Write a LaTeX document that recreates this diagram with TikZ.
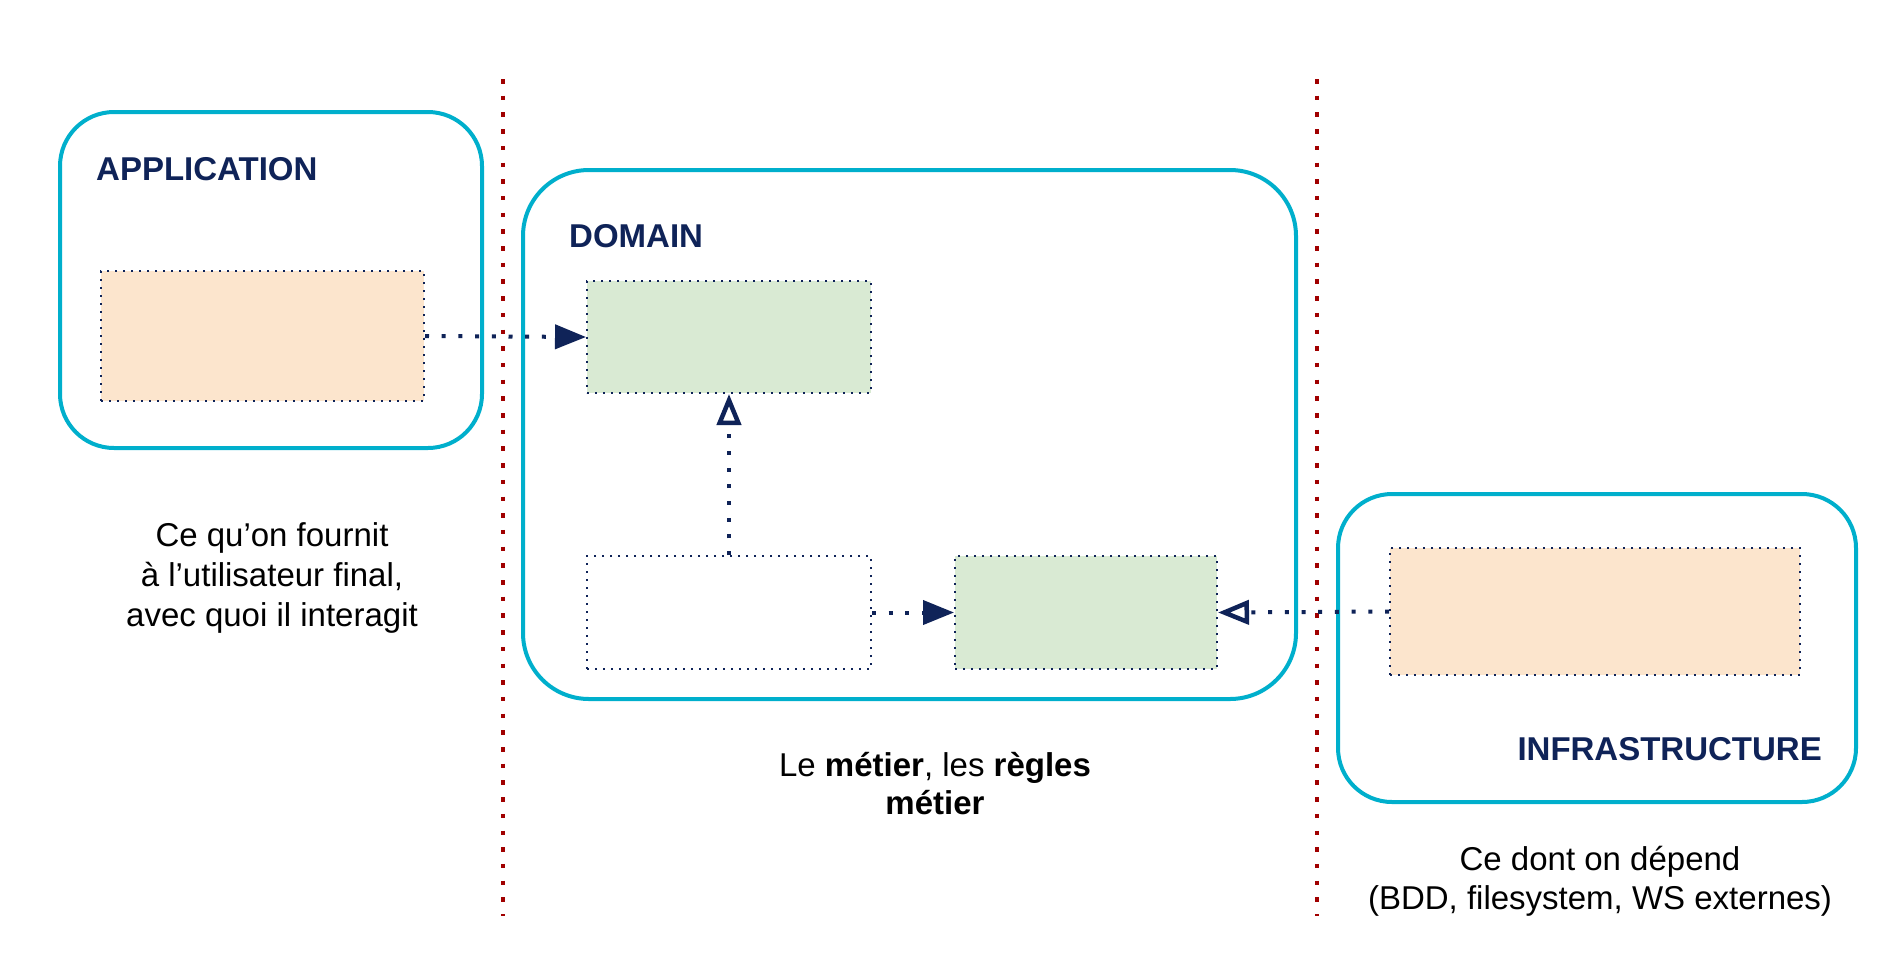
\documentclass[tikz,border=0pt]{standalone}
\usepackage{fontspec}
\setmainfont{Liberation Sans}
\usetikzlibrary{arrows.meta}
\definecolor{cyanb}{RGB}{0,175,204}
\definecolor{navy}{RGB}{15,35,88}
\definecolor{dred}{RGB}{160,0,0}
\definecolor{peach}{RGB}{252,229,205}
\definecolor{lgreen}{RGB}{217,234,211}
\begin{document}
\begin{tikzpicture}[x=1pt,y=-1pt,
 container/.style={draw=cyanb, line width=4pt, fill=white, inner sep=0pt},
 inbox/.style={draw=navy, line width=2pt, dash pattern=on 2pt off 6pt, inner sep=0pt},
 conn/.style={navy, line width=4pt, dash pattern=on 4pt off 12.7pt},
 sepline/.style={dred, line width=4.5pt, dash pattern=on 4.5pt off 12.2pt},
 titletext/.style={text=navy, font=\fontsize{33}{40}\selectfont\bfseries, inner sep=0pt},
 captext/.style={text=black, align=center, inner sep=0pt},
 fillhead/.style={-{Triangle[length=31pt,width=24pt]}},
 openhead/.style={-{Triangle[open,length=31pt,width=24pt,line width=4.5pt]}}]

\useasboundingbox (0,0) rectangle (1890,970);

% separators
\coordinate (s1t) at (503,79);
\coordinate (s1b) at (503,916);
\coordinate (s2t) at (1317,79);
\coordinate (s2b) at (1317,916);
\draw[sepline] (s1t) -- (s1b);
\draw[sepline] (s2t) -- (s2b);

% containers
\node[container, rounded corners=54pt, minimum width=422pt, minimum height=336pt] (app) at (271,280) {};
\node[container, rounded corners=66pt, minimum width=773pt, minimum height=529pt] (dom) at (909.5,434.5) {};
\node[container, rounded corners=54pt, minimum width=518pt, minimum height=308pt] (inf) at (1597,648) {};

% inner boxes
\node[inbox, fill=peach, minimum width=323pt, minimum height=130pt] (o1) at (262.5,336) {};
\node[inbox, fill=lgreen, minimum width=284pt, minimum height=112pt] (g1) at (729,337) {};
\node[inbox, fill=white, minimum width=284pt, minimum height=113pt] (w1) at (729,612.5) {};
\node[inbox, fill=lgreen, minimum width=262pt, minimum height=113pt] (g2) at (1086,612.5) {};
\node[inbox, fill=peach, minimum width=410pt, minimum height=127pt] (o2) at (1595,611.5) {};

% titles
\node[titletext, anchor=base west] (tapp) at (96,180) {APPLICATION};
\node[titletext, anchor=base west] (tdom) at (569,247) {DOMAIN};
\node[titletext, anchor=base east] (tinf) at (1822,760) {INFRASTRUCTURE};

% captions
\node[captext, font=\fontsize{33}{40}\selectfont] (capp) at (272,577.5) {Ce qu’on fournit\\à l’utilisateur final,\\avec quoi il interagit};
\node[captext, font=\fontsize{33}{38}\selectfont] (cdom) at (935,783.5) {Le \textbf{métier}, les \textbf{règles}\\\textbf{métier}};
\node[captext, font=\fontsize{33}{39}\selectfont] (cinf) at (1600,881) {Ce dont on dépend\\(BDD, filesystem, WS externes)};

% connectors
\draw[conn, fillhead] (o1.east) -- (g1.west);
\draw[conn, openhead] (w1.north) -- (g1.south);
\draw[conn, fillhead] (w1.east) -- (g2.west);
\draw[conn, openhead] (o2.west) -- (g2.east);
\end{tikzpicture}
\end{document}
